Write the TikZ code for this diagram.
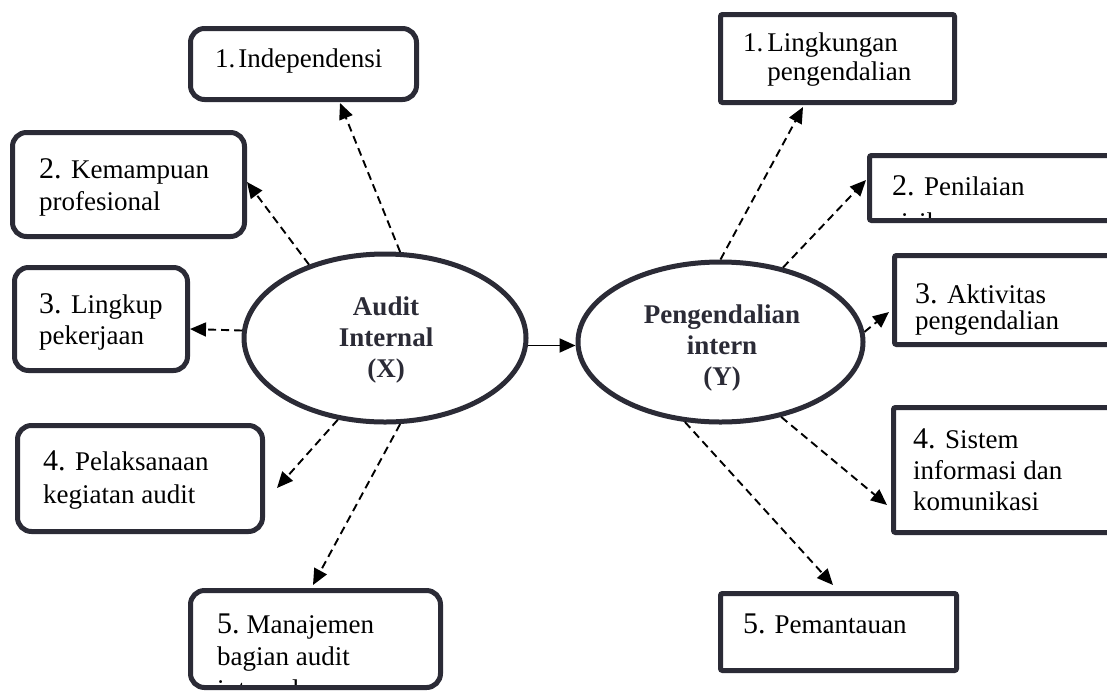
\documentclass[tikz,border=0pt]{standalone}
\usepackage{fontspec}
\setmainfont{Liberation Serif}
\usetikzlibrary{arrows.meta,shapes.geometric,calc}
\definecolor{frame}{RGB}{43,43,54}
\newcommand{\bnum}[2][9.5pt]{{\fontsize{30}{31}\selectfont #2}\hspace{#1}}
\begin{document}
\begin{tikzpicture}[x=1pt,y=-1pt,
  lbox/.style={draw=frame,line width=5pt,rounded corners=14pt,inner sep=0pt,rectangle},
  sbox/.style={draw=frame,line width=5pt,rounded corners=2pt,inner sep=0pt,rectangle},
  oval/.style={ellipse,draw=frame,line width=5pt,inner sep=0pt},
  lbl/.style={anchor=base west,inner sep=0pt,font=\fontsize{27}{31}\selectfont},
  olbl/.style={anchor=base,inner sep=0pt,text=frame,font=\bfseries\fontsize{27}{31}\selectfont},
  dep/.style={black,line width=1.9pt,dash pattern=on 8pt off 5pt,-{Triangle[length=16pt,width=14pt]}},
  mainarrow/.style={black,line width=1.9pt,-{Triangle[length=16pt,width=14pt]}}]
\useasboundingbox (0,0) rectangle (1107,694);
% texts (drawn first, boxes on top)
\node[lbl] (L1t) at (215,67) {1.\hspace{3pt}Independensi};
\node[lbl,font=\fontsize{27}{32}\selectfont] (L2t) at (39,178) {\begin{tabular}[t]{@{}l@{}}\bnum{2.}Kemampuan\\profesional\end{tabular}};
\node[lbl] (L3t) at (39,313) {\begin{tabular}[t]{@{}l@{}}\bnum{3.}Lingkup\\pekerjaan\end{tabular}};
\node[lbl,font=\fontsize{27}{33}\selectfont] (L4t) at (43,470) {\begin{tabular}[t]{@{}l@{}}\bnum{4.}Pelaksanaan\\kegiatan audit\end{tabular}};
\begin{scope}
\clip (190,590) rectangle (441,685);
\node[lbl,font=\fontsize{27}{31}\selectfont] (L5t) at (217,633) {\begin{tabular}[t]{@{}l@{}}\bnum[7pt]{5.}Manajemen\\[1pt]bagian audit\\[2pt]internal\end{tabular}};
\end{scope}
\node[lbl,font=\fontsize{27}{29}\selectfont] (R1t) at (743,51) {\begin{tabular}[t]{@{}l@{\hspace{4pt}}l@{}}1.&Lingkungan\\&pengendalian\end{tabular}};
\begin{scope}
\clip (869,155) rectangle (1107,218);
\node[lbl,font=\fontsize{27}{36}\selectfont] (R2t) at (892,195) {\begin{tabular}[t]{@{}l@{}}\bnum{2.}Penilaian\\risiko\end{tabular}};
\end{scope}
\node[lbl,font=\fontsize{27}{26}\selectfont] (R3t) at (915,303) {\begin{tabular}[t]{@{}l@{}}\bnum{3.}Aktivitas\\pengendalian\end{tabular}};
\node[lbl] (R4t) at (913,448) {\begin{tabular}[t]{@{}l@{}}\bnum{4.}Sistem\\informasi dan\\komunikasi\end{tabular}};
\node[lbl] (R5t) at (743,633) {\bnum[9pt]{5.}Pemantauan};
% ellipses
\node[oval,minimum width=282pt,minimum height=168pt] (X) at (385,338) {};
\node[oval,minimum width=285pt,minimum height=160pt] (Y) at (720.5,342) {};
\node[olbl] (Xt) at (386,315) {\begin{tabular}[t]{@{}c@{}}Audit\\Internal\\(X)\end{tabular}};
\node[olbl] (Yt) at (722,323) {\begin{tabular}[t]{@{}c@{}}Pengendalian\\intern\\(Y)\end{tabular}};
% left boxes
\node[lbox,minimum width=226pt,minimum height=71pt] (L1) at (303.5,64) {};
\node[lbox,minimum width=232pt,minimum height=104pt] (L2) at (128.5,184.5) {};
\node[lbox,minimum width=173pt,minimum height=103pt] (L3) at (101,319) {};
\node[lbox,minimum width=245pt,minimum height=106pt] (L4) at (140,478.5) {};
\node[lbox,minimum width=250pt,minimum height=97pt] (L5) at (315.5,639) {};
% right boxes
\node[sbox,minimum width=234pt,minimum height=88pt] (R1) at (837.5,58.5) {};
\node[sbox,minimum width=258pt,minimum height=65pt] (R2) at (998.5,188) {};
\node[sbox,minimum width=233pt,minimum height=89pt] (R3) at (1011,300) {};
\node[sbox,minimum width=234pt,minimum height=125pt] (R4) at (1010.5,470) {};
\node[sbox,minimum width=236pt,minimum height=77pt] (R5) at (838.5,632) {};
% arrow tips
\coordinate (tL1) at (340,103);
\coordinate (tL2) at (247,182);
\coordinate (tL3) at (190,329);
\coordinate (tL4) at (277,488);
\coordinate (tL5) at (313,585);
\coordinate (tR1) at (803,107);
\coordinate (tR2) at (866,180);
\coordinate (tR3) at (889,312);
\coordinate (tR4) at (887,505);
\coordinate (tR5) at (833,585);
% connectors
\draw[dep] (X.80.5) -- (tL1);
\draw[dep] (X.136) -- (tL2);
\draw[dep] (X.177) -- (tL3);
\draw[dep] (X.240.4) -- (tL4);
\draw[dep] (X.280.3) -- (tL5);
\draw[dep] (Y.90.7) -- (tR1);
\draw[dep] (Y.50.4) -- (tR2);
\draw[dep] (Y.4.8) -- (tR3);
\draw[dep] (Y.309.9) -- (tR4);
\draw[dep] (Y.246) -- (tR5);
\draw[mainarrow] (X.-3) -- (X.-3 -| Y.west);
\end{tikzpicture}
\end{document}
